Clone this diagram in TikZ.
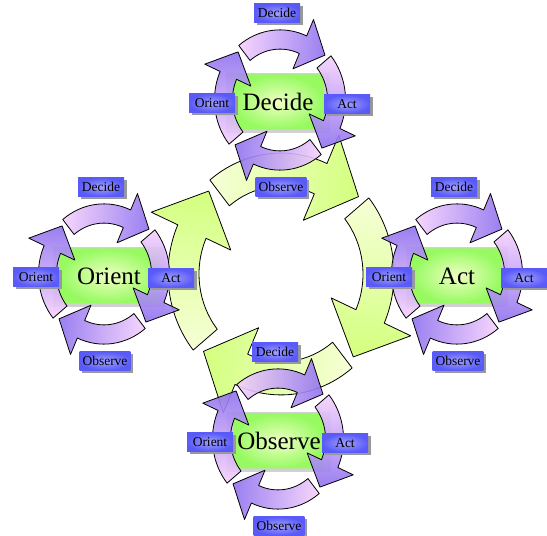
\documentclass[tikz,border=0pt]{standalone}
\usepackage{fontspec}
\setmainfont{Liberation Serif}
\usetikzlibrary{shadows}
\definecolor{ringtail}{RGB}{246,255,214}
\definecolor{ringhead}{RGB}{212,255,128}
\definecolor{looptail}{RGB}{244,208,252}
\definecolor{loophead}{RGB}{146,116,240}
\definecolor{boxin}{RGB}{240,255,196}
\definecolor{boxout}{RGB}{150,250,96}
\definecolor{tagin}{RGB}{160,160,255}
\definecolor{tagout}{RGB}{90,90,248}
\begin{document}
\begin{tikzpicture}[x=1pt,y=1pt,line join=round,
    arrowline/.style={draw=black,line width=0.8pt},
    mainbox/.style={rectangle,rounded corners=2pt,inner color=boxin,outer color=boxout,
      minimum height=55pt,font=\fontsize{25}{26}\selectfont},
    glow/.style={fill=black!28,fill opacity=0.65},
    tagbox/.style={rectangle,inner color=tagin,outer color=tagout,minimum width=46pt,
      minimum height=18.5pt,inner xsep=3pt,inner ysep=1pt,font=\fontsize{13.5}{14}\selectfont,
      drop shadow={shadow xshift=2.5pt,shadow yshift=-2.5pt,fill=black!40,opacity=1}}]
  \useasboundingbox (0,0) rectangle (547,536);
  % one bent arrow, centred on angle #1, running clockwise
  \def\ringarrow#1#2#3{%
    \pgfmathsetmacro\sa{#1-184.5}
    \draw[arrowline,bottom color=#2,top color=#3,shading angle=\sa]
      (#1+39:82) -- (#1+39:113) arc[start angle=#1+39,end angle=#1-24,radius=113]
      -- (#1-24:142) -- (#1-47:106) -- (#1-24:55) -- (#1-24:82)
      arc[start angle=#1-24,end angle=#1+39,radius=82] -- cycle;}
  % one small loop: name, centre, word, box width, box shift
  \def\oodaloop#1#2#3#4#5{%
    \begin{scope}[shift={#2}]
      \fill[glow] (#5-#4/2-6,-33) rectangle (#5+#4/2+6,27);
      \node[mainbox,minimum width=#4pt] (#1) at (#5,-2) {#3};
      \begin{scope}[yscale=1.07,scale=0.58,fill opacity=0.9]
        \foreach \p in {90,0,-90,180} {\ringarrow{\p}{looptail}{loophead}}
      \end{scope}
      \node[tagbox] (#1-dec) at (-3,87) {Decide};
      \node[tagbox] (#1-act) at (67,-4) {Act};
      \node[tagbox] (#1-obs) at (1,-87) {Observe};
      \node[tagbox] (#1-ori) at (-68,-3) {Orient};
    \end{scope}}
  %
  \begin{scope}[shift={(281,262)},yscale=1.07]
    \foreach \p in {90,0,-90,180} {\ringarrow{\p}{ringtail}{ringhead}}
  \end{scope}
  %
  \oodaloop{decide}{(280,436)}{Decide}{92}{-2}
  \oodaloop{act}{(457,262)}{Act}{90}{0}
  \oodaloop{observe}{(278,97)}{Observe}{92}{1}
  \oodaloop{orient}{(104,262)}{Orient}{100}{5}
\end{tikzpicture}
\end{document}
